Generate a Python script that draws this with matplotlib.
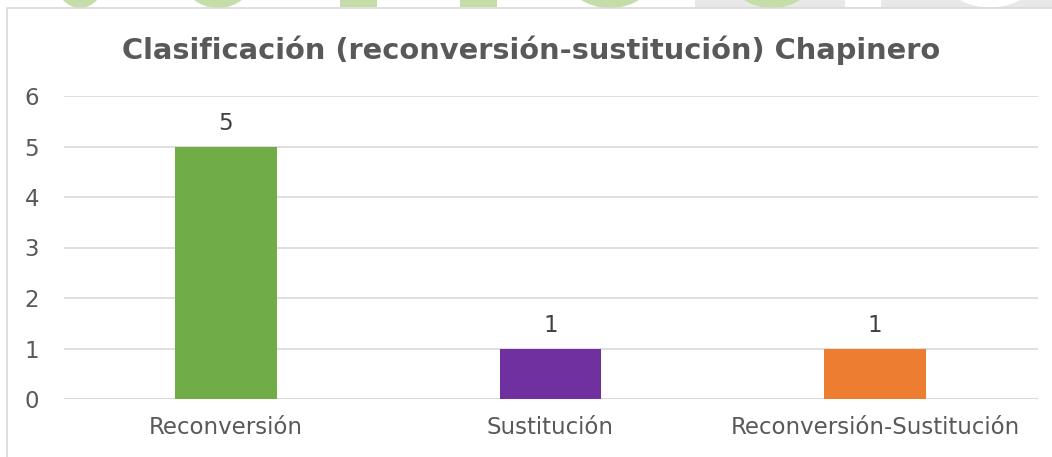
import matplotlib.pyplot as plt
from matplotlib.patches import Rectangle, Ellipse

categories = ['Reconversión', 'Sustitución', 'Reconversión-Sustitución']
values = [5, 1, 1]
colors = ['#70AD47', '#7030A0', '#ED7D31']
title = 'Clasificación (reconversión-sustitución) Chapinero'

W, H = 1052, 457
fig = plt.figure(figsize=(W / 100, H / 100), dpi=100)
fig.patch.set_facecolor('white')

# background strip at top (page watermark behind the chart)
bg = fig.add_axes([0, 0, 1, 1], zorder=-1)
bg.set_xlim(0, W)
bg.set_ylim(H, 0)
bg.axis('off')
bg.add_patch(Rectangle((695, 0), W - 695, 10, color='#E8E8E8', lw=0))
green = '#C5DDA8'
for cx, rw in [(80, 50), (218, 70), (610, 85)]:
    bg.add_patch(Ellipse((cx, -22), rw, 60, color=green, lw=0))
bg.add_patch(Rectangle((340, 0), 37, 7, color=green, lw=0))
bg.add_patch(Rectangle((460, 0), 37, 7, color=green, lw=0))
bg.add_patch(Ellipse((772, -22), 82, 60, color=green, lw=0))
bg.add_patch(Rectangle((845, 0), 36, 7, color='white', lw=0))
bg.add_patch(Ellipse((990, -30), 100, 75, color='white', lw=0))
# chart area
bg.add_patch(Rectangle((7, 8), W, H, facecolor='white', edgecolor='#D9D9D9', lw=1.2))

ax = fig.add_axes([63.5 / W, 1 - 399 / H, (1037.5 - 63.5) / W, (399 - 96) / H])
x = range(len(categories))
bars = ax.bar(x, values, width=0.314, color=colors, zorder=3)
ax.set_xlim(-0.5, len(categories) - 0.5)
ax.set_ylim(0, 6)
ax.set_yticks(range(0, 7))
ax.yaxis.grid(True, color='#D9D9D9', lw=1.2, zorder=0)
for s in ax.spines.values():
    s.set_visible(False)
ax.axhline(0, color='#D9D9D9', lw=1.5, zorder=2)
ax.tick_params(axis='both', length=0, labelsize=16.5, labelcolor='#595959')
ax.tick_params(axis='y', pad=17.5)
ax.tick_params(axis='x', pad=12)
ax.set_xticks(list(x))
ax.set_xticklabels(categories)
ax.patch.set_alpha(0)
for b, v in zip(bars, values):
    ax.annotate(str(v), (b.get_x() + b.get_width() / 2, v), xytext=(0, 8),
                textcoords='offset points', ha='center', va='bottom',
                fontsize=16.5, color='#404040')

fig.text(531 / W, 1 - 50 / H, title, ha='center', va='center',
         fontsize=20.8, fontweight='bold', color='#595959')

fig.savefig('out.png', dpi=100)
